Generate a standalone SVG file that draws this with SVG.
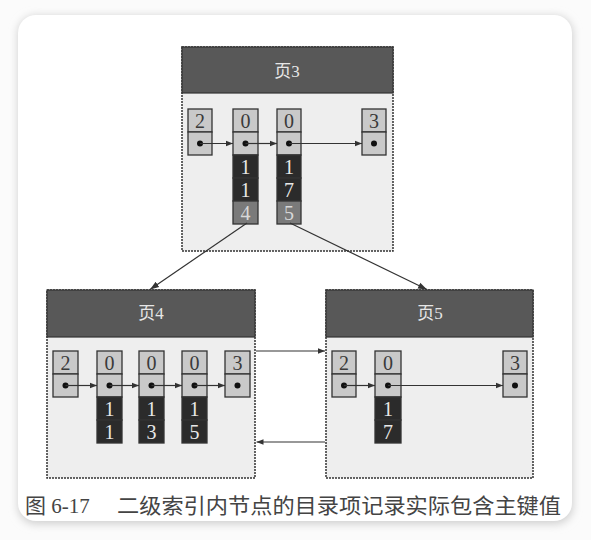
<svg xmlns="http://www.w3.org/2000/svg" width="591" height="540" viewBox="0 0 591 540">
<defs>
<filter id="sh" x="-10%" y="-10%" width="120%" height="120%"><feGaussianBlur stdDeviation="4"/></filter>
<marker id="ah" viewBox="0 0 10 10" refX="10" refY="5" markerWidth="7" markerHeight="7" markerUnits="userSpaceOnUse" orient="auto"><path d="M0,1 L10,5 L0,9 z" fill="#333"/></marker>
<marker id="ab" viewBox="0 0 10 10" refX="10" refY="5" markerWidth="9" markerHeight="9" markerUnits="userSpaceOnUse" orient="auto"><path d="M0,1.5 L10,5 L0,8.5 z" fill="#333"/></marker>
<style>
.body{fill:#eeeeee;stroke:#333;stroke-width:1.5;stroke-dasharray:2 1}
.hdr{fill:#585858;stroke:#333;stroke-width:1.2}
.ht{font-family:"Liberation Serif","Noto Sans CJK SC",serif;font-size:17px;fill:#e6e6e6;text-anchor:middle}
.lc{fill:#c9c9c9;stroke:#333;stroke-width:1.3}
.dc{fill:#2b2b2b;stroke:#333;stroke-width:1.3}
.mc{fill:#7a7a7a;stroke:#333;stroke-width:1.3}
.n{font-family:"Liberation Serif",serif;font-size:20px;text-anchor:middle;fill:#3a3a3a}
.w{fill:#e8e8e8}
.m{fill:#d8d8d8}
.dot{fill:#111}
.ln{stroke:#333;stroke-width:1.2;fill:none}
.cap{font-family:"Liberation Serif","Noto Sans CJK SC",serif;font-size:21px;fill:#444}
</style>
</defs>
<rect width="591" height="540" fill="#fbfbfb"/>
<rect x="18" y="16" width="555" height="508" rx="18" fill="#cfcfcf" filter="url(#sh)"/>
<rect x="18" y="15" width="554" height="506" rx="18" fill="#ffffff"/>

<g id="page3">
<rect class="body" x="182" y="47" width="211" height="204"/>
<rect class="hdr" x="182" y="47" width="211" height="46"/>
<text class="ht" x="287" y="77">页3</text>
<rect class="lc" x="188" y="109" width="24" height="23"/><text class="n" x="200" y="128">2</text>
<rect class="lc" x="188" y="132" width="24" height="23"/><circle class="dot" cx="200" cy="143.5" r="3"/>
<rect class="lc" x="233" y="109" width="25" height="23"/><text class="n" x="245.5" y="128">0</text>
<rect class="lc" x="233" y="132" width="25" height="23"/><circle class="dot" cx="245.5" cy="143.5" r="3"/>
<rect class="dc" x="233" y="155" width="25" height="23"/><text class="n w" x="245.5" y="174">1</text>
<rect class="dc" x="233" y="178" width="25" height="23"/><text class="n w" x="245.5" y="197">1</text>
<rect class="mc" x="233" y="201" width="25" height="23"/><text class="n m" x="245.5" y="220">4</text>
<rect class="lc" x="277" y="109" width="24" height="23"/><text class="n" x="289" y="128">0</text>
<rect class="lc" x="277" y="132" width="24" height="23"/><circle class="dot" cx="289" cy="143.5" r="3"/>
<rect class="dc" x="277" y="155" width="24" height="23"/><text class="n w" x="289" y="174">1</text>
<rect class="dc" x="277" y="178" width="24" height="23"/><text class="n w" x="289" y="197">7</text>
<rect class="mc" x="277" y="201" width="24" height="23"/><text class="n m" x="289" y="220">5</text>
<rect class="lc" x="362" y="109" width="24" height="23"/><text class="n" x="374" y="128">3</text>
<rect class="lc" x="362" y="132" width="24" height="23"/><circle class="dot" cx="374" cy="143.5" r="3"/>
</g>

<g id="page4">
<rect class="body" x="47" y="290" width="208" height="188"/>
<rect class="hdr" x="47" y="290" width="208" height="47"/>
<text class="ht" x="151" y="319">页4</text>
<rect class="lc" x="53" y="351" width="25" height="23"/><text class="n" x="65.5" y="370">2</text>
<rect class="lc" x="53" y="374" width="25" height="23"/><circle class="dot" cx="65.5" cy="385.5" r="3"/>
<rect class="lc" x="97" y="351" width="25" height="23"/><text class="n" x="109.5" y="370">0</text>
<rect class="lc" x="97" y="374" width="25" height="23"/><circle class="dot" cx="109.5" cy="385.5" r="3"/>
<rect class="dc" x="97" y="397" width="25" height="23"/><text class="n w" x="109.5" y="416">1</text>
<rect class="dc" x="97" y="420" width="25" height="23"/><text class="n w" x="109.5" y="439">1</text>
<rect class="lc" x="139" y="351" width="25" height="23"/><text class="n" x="151.5" y="370">0</text>
<rect class="lc" x="139" y="374" width="25" height="23"/><circle class="dot" cx="151.5" cy="385.5" r="3"/>
<rect class="dc" x="139" y="397" width="25" height="23"/><text class="n w" x="151.5" y="416">1</text>
<rect class="dc" x="139" y="420" width="25" height="23"/><text class="n w" x="151.5" y="439">3</text>
<rect class="lc" x="182" y="351" width="25" height="23"/><text class="n" x="194.5" y="370">0</text>
<rect class="lc" x="182" y="374" width="25" height="23"/><circle class="dot" cx="194.5" cy="385.5" r="3"/>
<rect class="dc" x="182" y="397" width="25" height="23"/><text class="n w" x="194.5" y="416">1</text>
<rect class="dc" x="182" y="420" width="25" height="23"/><text class="n w" x="194.5" y="439">5</text>
<rect class="lc" x="225" y="351" width="25" height="23"/><text class="n" x="237.5" y="370">3</text>
<rect class="lc" x="225" y="374" width="25" height="23"/><circle class="dot" cx="237.5" cy="385.5" r="3"/>
</g>

<g id="page5">
<rect class="body" x="326" y="290" width="207" height="188"/>
<rect class="hdr" x="326" y="290" width="207" height="47"/>
<text class="ht" x="430" y="319">页5</text>
<rect class="lc" x="332" y="351" width="24" height="23"/><text class="n" x="344" y="370">2</text>
<rect class="lc" x="332" y="374" width="24" height="23"/><circle class="dot" cx="344" cy="385.5" r="3"/>
<rect class="lc" x="375" y="351" width="26" height="23"/><text class="n" x="388" y="370">0</text>
<rect class="lc" x="375" y="374" width="26" height="23"/><circle class="dot" cx="388" cy="385.5" r="3"/>
<rect class="dc" x="375" y="397" width="26" height="23"/><text class="n w" x="388" y="416">1</text>
<rect class="dc" x="375" y="420" width="26" height="23"/><text class="n w" x="388" y="439">7</text>
<rect class="lc" x="503" y="351" width="24" height="23"/><text class="n" x="515" y="370">3</text>
<rect class="lc" x="503" y="374" width="24" height="23"/><circle class="dot" cx="515" cy="385.5" r="3"/>
</g>

<g id="connectors">
<line class="ln" x1="200" y1="143.5" x2="233" y2="143.5" marker-end="url(#ah)"/>
<line class="ln" x1="245.5" y1="143.5" x2="277" y2="143.5" marker-end="url(#ah)"/>
<line class="ln" x1="289" y1="143.5" x2="362" y2="143.5" marker-end="url(#ah)"/>
<line class="ln" x1="65.5" y1="385.5" x2="97" y2="385.5" marker-end="url(#ah)"/>
<line class="ln" x1="109.5" y1="385.5" x2="139" y2="385.5" marker-end="url(#ah)"/>
<line class="ln" x1="151.5" y1="385.5" x2="182" y2="385.5" marker-end="url(#ah)"/>
<line class="ln" x1="194.5" y1="385.5" x2="225" y2="385.5" marker-end="url(#ah)"/>
<line class="ln" x1="344" y1="385.5" x2="375" y2="385.5" marker-end="url(#ah)"/>
<line class="ln" x1="388" y1="385.5" x2="503" y2="385.5" marker-end="url(#ah)"/>
<line class="ln" x1="247" y1="223" x2="150" y2="289.5" marker-end="url(#ab)"/>
<line class="ln" x1="290" y1="223" x2="427" y2="289.5" marker-end="url(#ab)"/>
<line class="ln" x1="256" y1="351" x2="325" y2="351" marker-end="url(#ah)"/>
<line class="ln" x1="325" y1="442" x2="256.5" y2="442" marker-end="url(#ah)"/>
</g>

<text class="cap" x="25" y="513">图 6-17</text>
<text class="cap" x="117" y="513" textLength="444" lengthAdjust="spacingAndGlyphs">二级索引内节点的目录项记录实际包含主键值</text>
</svg>
